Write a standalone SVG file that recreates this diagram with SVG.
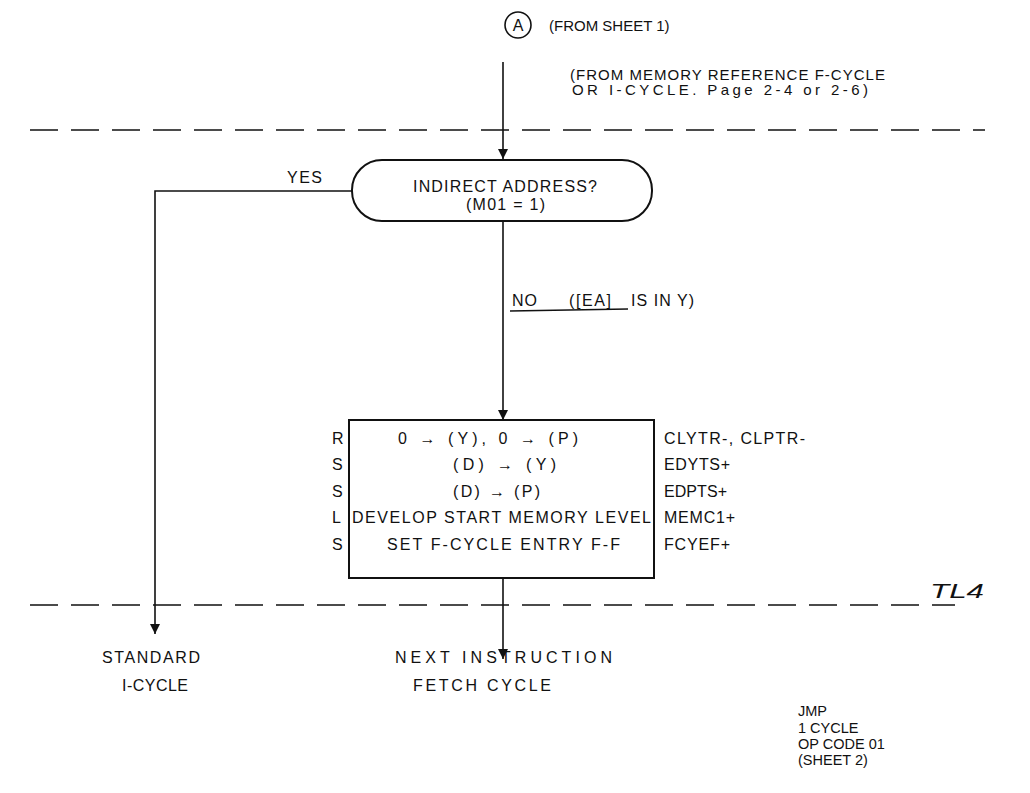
<svg xmlns="http://www.w3.org/2000/svg" width="1030" height="793" viewBox="0 0 1030 793">
<style>
text{font-family:"Liberation Sans",Arial,sans-serif;font-size:16px;fill:#111}
.c{text-anchor:middle}
.sm{font-size:15px}
.ti{font-size:14.5px}
.ln{stroke:#111;stroke-width:1.6;fill:none}
.dash{stroke:#111;stroke-width:1.6;fill:none;stroke-dasharray:28 13}
.shape{stroke:#111;stroke-width:2;fill:#fff}
</style>
<defs>
<marker id="ah" viewBox="0 0 10 16" refX="10" refY="8" markerWidth="10" markerHeight="16" markerUnits="userSpaceOnUse" orient="auto">
<path d="M0,3 L10,8 L0,13 Z" fill="#111"/>
</marker>
</defs>
<rect width="1030" height="793" fill="#fff"/>

<g id="separators">
<line class="dash" x1="30" y1="130" x2="985" y2="130"/>
<line class="dash" x1="30" y1="605" x2="955" y2="605"/>
<text x="930" y="598" style="font-style:italic;font-size:20px" textLength="54" lengthAdjust="spacingAndGlyphs">TL4</text>
</g>

<g id="connectors">
<line class="ln" x1="503" y1="62" x2="503" y2="159" marker-end="url(#ah)"/>
<polyline class="ln" points="352,191 155,191 155,634" marker-end="url(#ah)"/>
<line class="ln" x1="503" y1="221" x2="503" y2="420" marker-end="url(#ah)"/>
<line class="ln" x1="503" y1="578" x2="503" y2="659" marker-end="url(#ah)"/>
<text x="287" y="183" textLength="35" lengthAdjust="spacing">YES</text>
<text x="512" y="306" textLength="25" lengthAdjust="spacing">NO</text>
<line class="ln" x1="510" y1="311" x2="628" y2="309" style="stroke-width:1.3"/>
<text x="569" y="306" textLength="42" lengthAdjust="spacing">([EA]</text>
<text x="631" y="306" textLength="63" lengthAdjust="spacing">IS IN Y)</text>
</g>

<g id="entry-A">
<circle cx="518" cy="25" r="13" fill="#fff" stroke="#111" stroke-width="1.6"/>
<text class="c" x="518" y="31">A</text>
<text class="sm" x="549" y="31">(FROM SHEET 1)</text>
<text class="sm" x="570" y="80" textLength="315" lengthAdjust="spacing">(FROM MEMORY REFERENCE F-CYCLE</text>
<text class="sm" x="572" y="95" textLength="296" lengthAdjust="spacing">OR I-CYCLE.  Page 2-4 or 2-6)</text>
</g>

<g id="decision">
<rect class="shape" x="352" y="160" width="300" height="61" rx="30" ry="30"/>
<text x="413" y="192" textLength="184" lengthAdjust="spacing">INDIRECT ADDRESS?</text>
<text x="466" y="210" textLength="79" lengthAdjust="spacing">(M01 = 1)</text>
</g>

<g id="process">
<rect x="349" y="420" width="305" height="158" fill="#fff" stroke="#111" stroke-width="2"/>
<text x="332" y="444">R</text>
<text x="332" y="470">S</text>
<text x="332" y="497">S</text>
<text x="332" y="523">L</text>
<text x="332" y="550">S</text>
<text x="398" y="444" textLength="180" lengthAdjust="spacing">0 → (Y),  0 → (P)</text>
<text x="453" y="470" textLength="103" lengthAdjust="spacing">(D) → (Y)</text>
<text x="453" y="497" textLength="87" lengthAdjust="spacing">(D) → (P)</text>
<text x="352" y="523" textLength="299" lengthAdjust="spacing">DEVELOP START MEMORY LEVEL</text>
<text x="387" y="550" textLength="233" lengthAdjust="spacing">SET F-CYCLE ENTRY F-F</text>
<text x="664" y="444" textLength="141" lengthAdjust="spacing">CLYTR-, CLPTR-</text>
<text x="664" y="470" textLength="66" lengthAdjust="spacing">EDYTS+</text>
<text x="664" y="497" textLength="63" lengthAdjust="spacing">EDPTS+</text>
<text x="664" y="523" textLength="71" lengthAdjust="spacing">MEMC1+</text>
<text x="664" y="550" textLength="66" lengthAdjust="spacing">FCYEF+</text>
</g>

<g id="standard-icycle">
<text x="102" y="663" textLength="98" lengthAdjust="spacing">STANDARD</text>
<text x="122" y="691" textLength="66" lengthAdjust="spacing">I-CYCLE</text>
</g>

<g id="next-fetch">
<text x="395" y="663" textLength="217" lengthAdjust="spacing">NEXT INSTRUCTION</text>
<text x="413" y="691" textLength="138" lengthAdjust="spacing">FETCH CYCLE</text>
</g>

<g id="title">
<text class="ti" x="798" y="716">JMP</text>
<text class="ti" x="798" y="733">1 CYCLE</text>
<text class="ti" x="798" y="749">OP CODE 01</text>
<text class="ti" x="798" y="765">(SHEET 2)</text>
</g>
</svg>
